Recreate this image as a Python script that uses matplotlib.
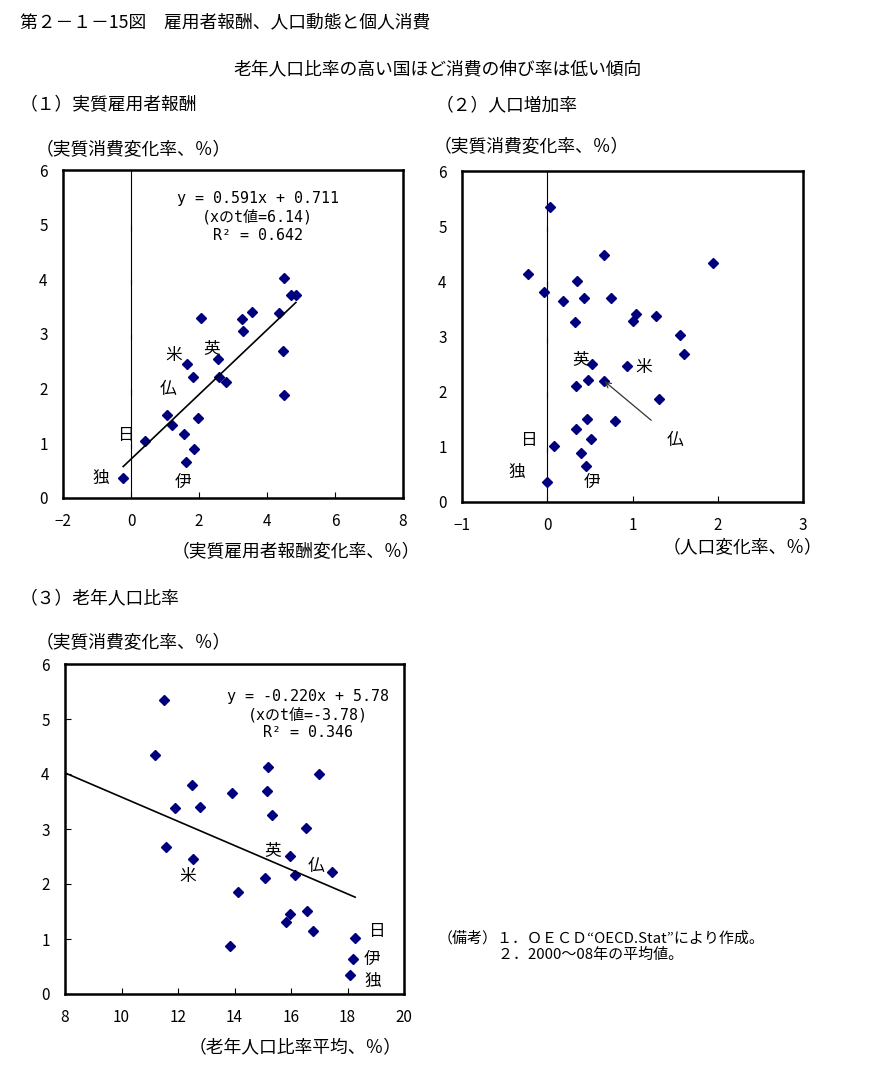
'''
Scatter panels: real consumption growth vs wages, population growth and ageing ratio.
'''

import matplotlib
matplotlib.use('Agg')
import numpy as np
import matplotlib.pyplot as plt

plt.rcParams['font.family'] = ['Noto Sans CJK JP', 'DejaVu Sans']

# (1) real compensation of employees vs real consumption (%)
wage_x = [-0.23, 0.41, 1.07, 1.21, 1.56, 1.62, 1.86, 1.97, 1.64, 1.83, 2.07, 2.57,
          2.60, 2.80, 3.26, 3.28, 3.55, 4.34, 4.50, 4.47, 4.50, 4.70, 4.85]
wage_y = [0.36, 1.04, 1.52, 1.33, 1.17, 0.66, 0.90, 1.46, 2.46, 2.21, 3.30, 2.54,
          2.22, 2.12, 3.27, 3.05, 3.41, 3.39, 4.02, 2.69, 1.88, 3.71, 3.71]
wage_fit = (0.591, 0.711)
wage_labels = ['米', '英', '仏', '日', '独', '伊']
wage_label_pos = [(1.27, 2.61), (2.37, 2.74), (1.09, 1.99), (-0.18, 1.14), (-0.89, 0.36), (1.52, 0.28)]
wage_eq = 'y = 0.591x + 0.711\n(xのt値=6.14)\nR² = 0.642'

# (2) population growth vs real consumption (%)
pop_x = [0.03, -0.22, -0.04, 0.19, 0.35, 0.43, 0.33, 0.66, 0.75, 1.04, 1.01, 1.27,
         1.56, 1.60, 1.94, 0.53, 0.94, 0.48, 0.34, 0.67, 1.31, 0.47, 0.34, 0.79,
         0.51, 0.08, 0.40, 0.46, 0.00]
pop_y = [5.35, 4.13, 3.80, 3.65, 4.00, 3.69, 3.26, 4.47, 3.69, 3.41, 3.29, 3.38,
         3.02, 2.68, 4.34, 2.51, 2.46, 2.22, 2.11, 2.19, 1.86, 1.51, 1.32, 1.46,
         1.15, 1.02, 0.88, 0.65, 0.36]
pop_labels = ['英', '米', '日', '独', '伊']
pop_label_pos = [(0.39, 2.58), (1.13, 2.44), (-0.22, 1.12), (-0.36, 0.54), (0.53, 0.36)]
pop_france = (0.67, 2.19)
pop_france_text = (1.50, 1.12)

# (3) elderly population ratio vs real consumption (%)
old_x = [11.50, 11.20, 12.51, 11.90, 12.77, 13.92, 15.19, 15.16, 15.34, 17.00, 16.54,
         11.59, 12.54, 15.96, 16.15, 17.46, 15.09, 14.13, 15.96, 16.56, 15.83, 16.78,
         13.85, 18.27, 18.18, 18.09]
old_y = [5.34, 4.34, 3.80, 3.38, 3.40, 3.65, 4.13, 3.69, 3.25, 4.00, 3.02,
         2.67, 2.45, 2.51, 2.17, 2.22, 2.11, 1.85, 1.45, 1.51, 1.31, 1.15,
         0.87, 1.02, 0.64, 0.35]
old_fit = (-0.220, 5.78)
old_labels = ['米', '英', '仏', '日', '伊', '独']
old_label_pos = [(12.35, 2.14), (15.34, 2.60), (16.88, 2.32), (19.02, 1.14), (18.88, 0.62), (18.88, 0.23)]
old_eq = 'y = -0.220x + 5.78\n(xのt値=-3.78)\nR² = 0.346'

W, H = 884, 1065
MARK = '#00007f'
EQ_FONT = ['DejaVu Sans Mono', 'Noto Sans CJK JP']


def box(l, t, r, b):
    return [l / W, 1 - b / H, (r - l) / W, (b - t) / H]


def ftext(x, y, s, **kw):
    fig.text(x / W, 1 - y / H, s, va='center', **kw)


def style_axes(ax, xlim, xticks, zero_line):
    ax.set_xlim(*xlim)
    ax.set_ylim(0, 6)
    ax.set_xticks(xticks)
    ax.set_yticks(range(7))
    for sp in ax.spines.values():
        sp.set_linewidth(1.8)
    ax.tick_params(axis='both', direction='in', labelsize=11, pad=11, length=4, width=0.8)
    if zero_line:
        ax.tick_params(axis='y', length=0)
        ax.axvline(0, color='black', lw=0.8)
        ax.plot([0] * 5, range(1, 6), ls='none', marker=3, ms=4, mew=0.8, color='black')


fig = plt.figure(figsize=(W / 100, H / 100), dpi=100)

# panel 1
ax1 = fig.add_axes(box(63, 170, 403, 498))
style_axes(ax1, (-2, 8), range(-2, 9, 2), True)
ax1.plot(wage_x, wage_y, ls='none', marker='D', ms=5, color=MARK)
fx = np.array([min(wage_x), max(wage_x)])
ax1.plot(fx, wage_fit[0] * fx + wage_fit[1], color='black', lw=1.2)
for lab, (x, y) in zip(wage_labels, wage_label_pos):
    ax1.text(x, y, lab, ha='center', va='center', fontsize=12)
ax1.text(3.73, 5.14, wage_eq, ha='center', va='center', fontsize=10.8, family=EQ_FONT, linespacing=1.25)

# panel 2
ax2 = fig.add_axes(box(462, 171, 803, 502))
style_axes(ax2, (-1, 3), range(-1, 4), True)
ax2.plot(pop_x, pop_y, ls='none', marker='D', ms=5, color=MARK)
for lab, (x, y) in zip(pop_labels, pop_label_pos):
    ax2.text(x, y, lab, ha='center', va='center', fontsize=12)
ax2.annotate('仏', xy=pop_france, xytext=pop_france_text, ha='center', va='center', fontsize=12,
             arrowprops=dict(arrowstyle='->', color='#333333', lw=0.9, shrinkA=12, shrinkB=0, mutation_scale=10))

# panel 3
ax3 = fig.add_axes(box(65, 664, 404, 994))
style_axes(ax3, (8, 20), range(8, 21, 2), False)
ax3.plot(old_x, old_y, ls='none', marker='D', ms=5, color=MARK)
fx = np.array([8, max(old_x)])
ax3.plot(fx, old_fit[0] * fx + old_fit[1], color='black', lw=1.2)
for lab, (x, y) in zip(old_labels, old_label_pos):
    ax3.text(x, y, lab, ha='center', va='center', fontsize=12)
ax3.text(16.6, 5.08, old_eq, ha='center', va='center', fontsize=10.8, family=EQ_FONT, linespacing=1.25)

# titles and labels
ftext(20, 22, '第２－１－15図　雇用者報酬、人口動態と個人消費', fontsize=12.8)
ftext(438, 69, '老年人口比率の高い国ほど消費の伸び率は低い傾向', fontsize=12.8, ha='center')
ftext(20, 105, '（１）実質雇用者報酬', fontsize=12.8)
ftext(436, 105, '（２）人口増加率', fontsize=12.8)
ftext(20, 598, '（３）老年人口比率', fontsize=12.8)
ftext(36, 150, '（実質消費変化率、％）', fontsize=12.8)
ftext(434, 147, '（実質消費変化率、％）', fontsize=12.8)
ftext(36, 643, '（実質消費変化率、％）', fontsize=12.8)
ftext(420, 552, '（実質雇用者報酬変化率、％）', fontsize=12.8, ha='right')
ftext(822, 548, '（人口変化率、％）', fontsize=12.8, ha='right')
ftext(402, 1047, '（老年人口比率平均、％）', fontsize=12.8, ha='right')
ftext(438, 938, '（備考）１．ＯＥＣＤ“OECD.Stat”により作成。', fontsize=10.8)
ftext(438, 955, '　　　　２．2000～08年の平均値。', fontsize=10.8)

fig.savefig('out.png', dpi=100)
